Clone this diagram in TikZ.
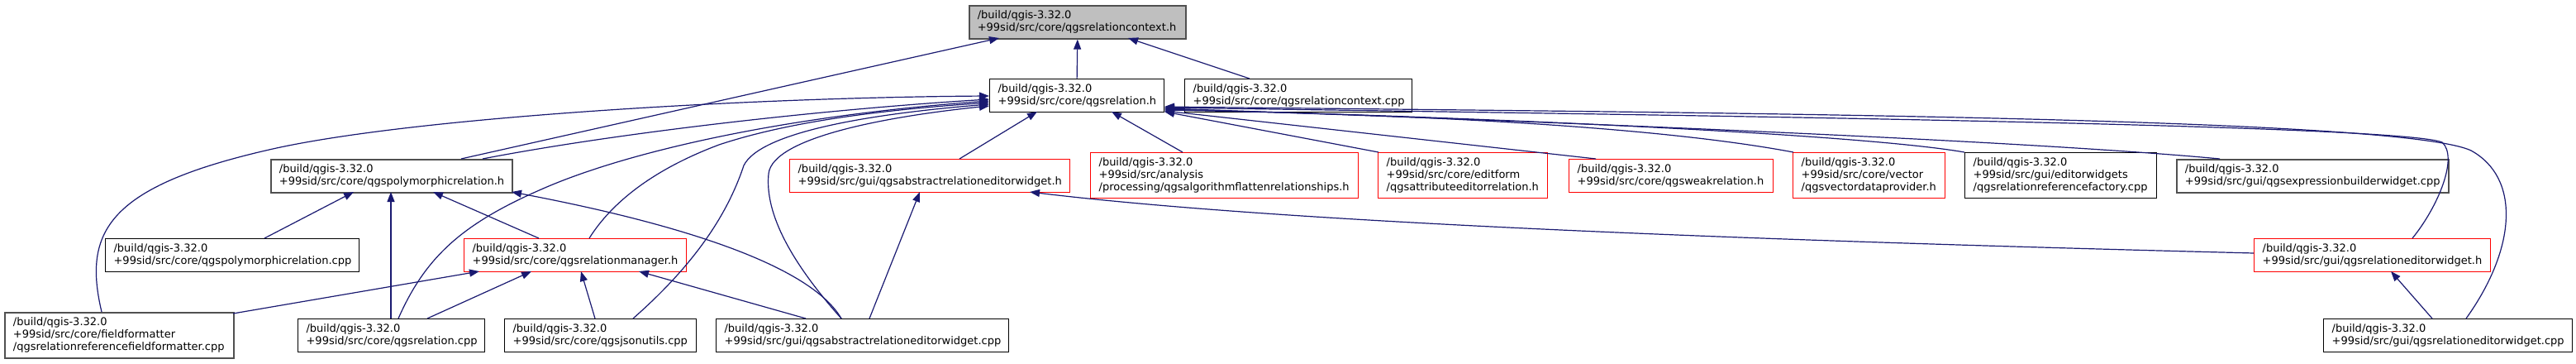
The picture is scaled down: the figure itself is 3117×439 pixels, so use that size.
\documentclass[tikz,border=0pt]{standalone}
\usepackage{fontspec}
\setmainfont{DejaVu Sans}
\usetikzlibrary{arrows.meta,calc}
\definecolor{navy}{HTML}{191970}
\definecolor{rootfill}{HTML}{BFBFBF}
\definecolor{darkborder}{HTML}{505050}
\newcommand{\myNoHyph}{\hyphenpenalty=10000 \exhyphenpenalty=10000\relax}
\tikzset{
  nbox/.style={draw, line width=1.2pt, anchor=north west, inner xsep=10pt, inner ysep=0pt,
    align=left, fill=white, font=\fontsize{13}{15}\selectfont,
    execute at begin node=\myNoHyph},
  redbox/.style={nbox, draw=red},
  graybox/.style={nbox, draw=darkborder, line width=1.8pt},
  rootbox/.style={nbox, fill=rootfill, draw=darkborder, line width=1.6pt},
  dep/.style={draw=navy, line width=1.2pt, -{Triangle[length=12pt,width=9pt]}}
}
\begin{document}
\begin{tikzpicture}[x=1pt,y=-1pt]
\useasboundingbox (0,0) rectangle (3117,439);
% nodes
\node[rootbox, text width=242pt, minimum height=40pt] (root) at (1172,6) {/build/qgis-3.32.0\\+99sid/src/core/qgsrelationcontext.h};
\node[nbox, text width=191pt, minimum height=40pt] (relh) at (1197,95) {/build/qgis-3.32.0\\+99sid/src/core/qgsrelation.h};
\node[nbox, text width=255pt, minimum height=40pt] (ctxcpp) at (1433,95) {/build/qgis-3.32.0\\+99sid/src/core/qgsrelationcontext.cpp};
\node[graybox, text width=272pt, minimum height=40pt] (polyh) at (327,192) {/build/qgis-3.32.0\\+99sid/src/core/qgspolymorphicrelation.h};
\node[redbox, text width=319pt, minimum height=40pt] (absh) at (955,192) {/build/qgis-3.32.0\\+99sid/src/gui/qgsabstractrelationeditorwidget.h};
\node[redbox, text width=304pt, minimum height=55pt] (flath) at (1319,184) {/build/qgis-3.32.0\\+99sid/src/analysis\\/processing/qgsalgorithmflattenrelationships.h};
\node[redbox, text width=185pt, minimum height=55pt] (attrh) at (1667,184) {/build/qgis-3.32.0\\+99sid/src/core/editform\\/qgsattributeeditorrelation.h};
\node[redbox, text width=227pt, minimum height=40pt] (weakh) at (1898,192) {/build/qgis-3.32.0\\+99sid/src/core/qgsweakrelation.h};
\node[redbox, text width=164pt, minimum height=55pt] (vech) at (2169,184) {/build/qgis-3.32.0\\+99sid/src/core/vector\\/qgsvectordataprovider.h};
\node[nbox, text width=212pt, minimum height=55pt] (faccpp) at (2377,184) {/build/qgis-3.32.0\\+99sid/src/gui/editorwidgets\\/qgsrelationreferencefactory.cpp};
\node[graybox, text width=309pt, minimum height=40pt] (exprcpp) at (2633,192) {/build/qgis-3.32.0\\+99sid/src/gui/qgsexpressionbuilderwidget.cpp};
\node[nbox, text width=287pt, minimum height=40pt] (polycpp) at (127,288) {/build/qgis-3.32.0\\+99sid/src/core/qgspolymorphicrelation.cpp};
\node[redbox, text width=249pt, minimum height=40pt] (mgrh) at (561,288) {/build/qgis-3.32.0\\+99sid/src/core/qgsrelationmanager.h};
\node[redbox, text width=266pt, minimum height=40pt] (redh) at (2727,288) {/build/qgis-3.32.0\\+99sid/src/gui/qgsrelationeditorwidget.h};
\node[graybox, text width=257pt, minimum height=55pt] (ffcpp) at (5,377) {/build/qgis-3.32.0\\+99sid/src/core/fieldformatter\\/qgsrelationreferencefieldformatter.cpp};
\node[nbox, text width=206pt, minimum height=40pt] (relcpp) at (360,385) {/build/qgis-3.32.0\\+99sid/src/core/qgsrelation.cpp};
\node[nbox, text width=212pt, minimum height=40pt] (jsoncpp) at (610,385) {/build/qgis-3.32.0\\+99sid/src/core/qgsjsonutils.cpp};
\node[nbox, text width=334pt, minimum height=40pt] (abscpp) at (866,385) {/build/qgis-3.32.0\\+99sid/src/gui/qgsabstractrelationeditorwidget.cpp};
\node[nbox, text width=281pt, minimum height=40pt] (redcpp) at (2811,385) {/build/qgis-3.32.0\\+99sid/src/gui/qgsrelationeditorwidget.cpp};

% edges into root
\draw[dep] (relh.north) -- (root.south);
\draw[dep] ($(ctxcpp.north west)+(79,0)$) -- ($(root.north west)+(193,40)$);
\draw[dep] ($(polyh.north west)+(231,0)$) -- ($(root.north west)+(37,40)$);

% edges into qgsrelation.h from the left
\draw[dep] ($(ffcpp.north west)+(118,0)$) .. controls (100,280) and (130,225) .. (330,180)
   .. controls (500,142) and (900,118) .. ($(relh.north west)+(0,21)$);
\draw[dep] ($(polyh.north west)+(257,0)$) .. controls (750,160) and (1000,132) .. ($(relh.north west)+(0,25)$);
\draw[dep] ($(relcpp.north west)+(122,0)$) .. controls (515,310) and (560,270) .. (657,228)
   .. controls (760,183) and (950,140) .. ($(relh.north west)+(0,27)$);
\draw[dep] ($(mgrh.north west)+(152,0)$) .. controls (740,245) and (790,205) .. (870,175)
   .. controls (960,145) and (1080,132) .. ($(relh.north west)+(0,29)$);
\draw[dep] ($(jsoncpp.north west)+(156,0)$) .. controls (840,320) and (880,260) .. (900,200)
   .. controls (920,160) and (1050,138) .. ($(relh.north west)+(0,31)$);
\draw[dep] ($(abscpp.north west)+(152,0)$) .. controls (960,320) and (925,260) .. (930,210)
   .. controls (935,165) and (1080,140) .. ($(relh.north west)+(0,33)$);

% edges into qgsrelation.h from below
\draw[dep] ($(absh.north west)+(206,0)$) -- ($(relh.north west)+(58,40)$);
\draw[dep] ($(flath.north west)+(112,0)$) -- ($(relh.north west)+(148,40)$);

% edges into qgsrelation.h from the right
\draw[dep] ($(attrh.north west)+(1,0)$) -- ($(relh.north west)+(212,40)$);
\draw[dep] ($(weakh.north west)+(33,0)$) -- ($(relh.north west)+(212,39)$);
\draw[dep] ($(vech.north west)+(1,0)$) .. controls (2000,152) and (1700,138) .. ($(relh.north west)+(212,38)$);
\draw[dep] ($(faccpp.north west)+(0,0)$) .. controls (2250,162) and (1800,142) .. ($(relh.north west)+(212,37)$);
\draw[dep] ($(exprcpp.north west)+(53,0)$) .. controls (2450,170) and (1900,148) .. ($(relh.north west)+(212,36)$);
\draw[dep] ($(redh.north west)+(192,0)$) .. controls (2950,250) and (2975,190) .. (2955,172)
   .. controls (2900,150) and (2000,139) .. ($(relh.north west)+(212,35)$);
\draw[dep] ($(redcpp.north west)+(173,0)$) .. controls (3045,300) and (3050,215) .. (2990,182)
   .. controls (2900,140) and (2000,136) .. ($(relh.north west)+(212,34)$);

% edges into qgspolymorphicrelation.h
\draw[dep] ($(polycpp.north west)+(193,0)$) -- ($(polyh.north west)+(101,40)$);
\draw[dep] ($(relcpp.north west)+(113,0)$) -- ($(polyh.north west)+(146,40)$);
\draw[dep] ($(mgrh.north west)+(91,0)$) -- ($(polyh.north west)+(197,40)$);
\draw[dep] ($(abscpp.north west)+(152,0)$) .. controls (980,320) and (820,270) .. ($(polyh.north west)+(292,40)$);

% edges into qgsrelationmanager.h
\draw[dep] ($(ffcpp.north west)+(277,2)$) -- ($(mgrh.north west)+(19,40)$);
\draw[dep] ($(relcpp.north west)+(157,0)$) -- ($(mgrh.north west)+(82,40)$);
\draw[dep] ($(jsoncpp.north west)+(110,0)$) -- ($(mgrh.north west)+(142,40)$);
\draw[dep] ($(abscpp.north west)+(109,0)$) -- ($(mgrh.north west)+(212,40)$);

% edges into qgsabstractrelationeditorwidget.h
\draw[dep] ($(abscpp.north west)+(186,0)$) -- ($(absh.north west)+(158,40)$);
\draw[dep] ($(redh.north west)+(0,18)$) .. controls (2300,295) and (1600,275) .. ($(absh.north west)+(291,40)$);

% edge into qgsrelationeditorwidget.h
\draw[dep] ($(redcpp.north west)+(132,0)$) -- ($(redh.north west)+(166,40)$);
\end{tikzpicture}
\end{document}
